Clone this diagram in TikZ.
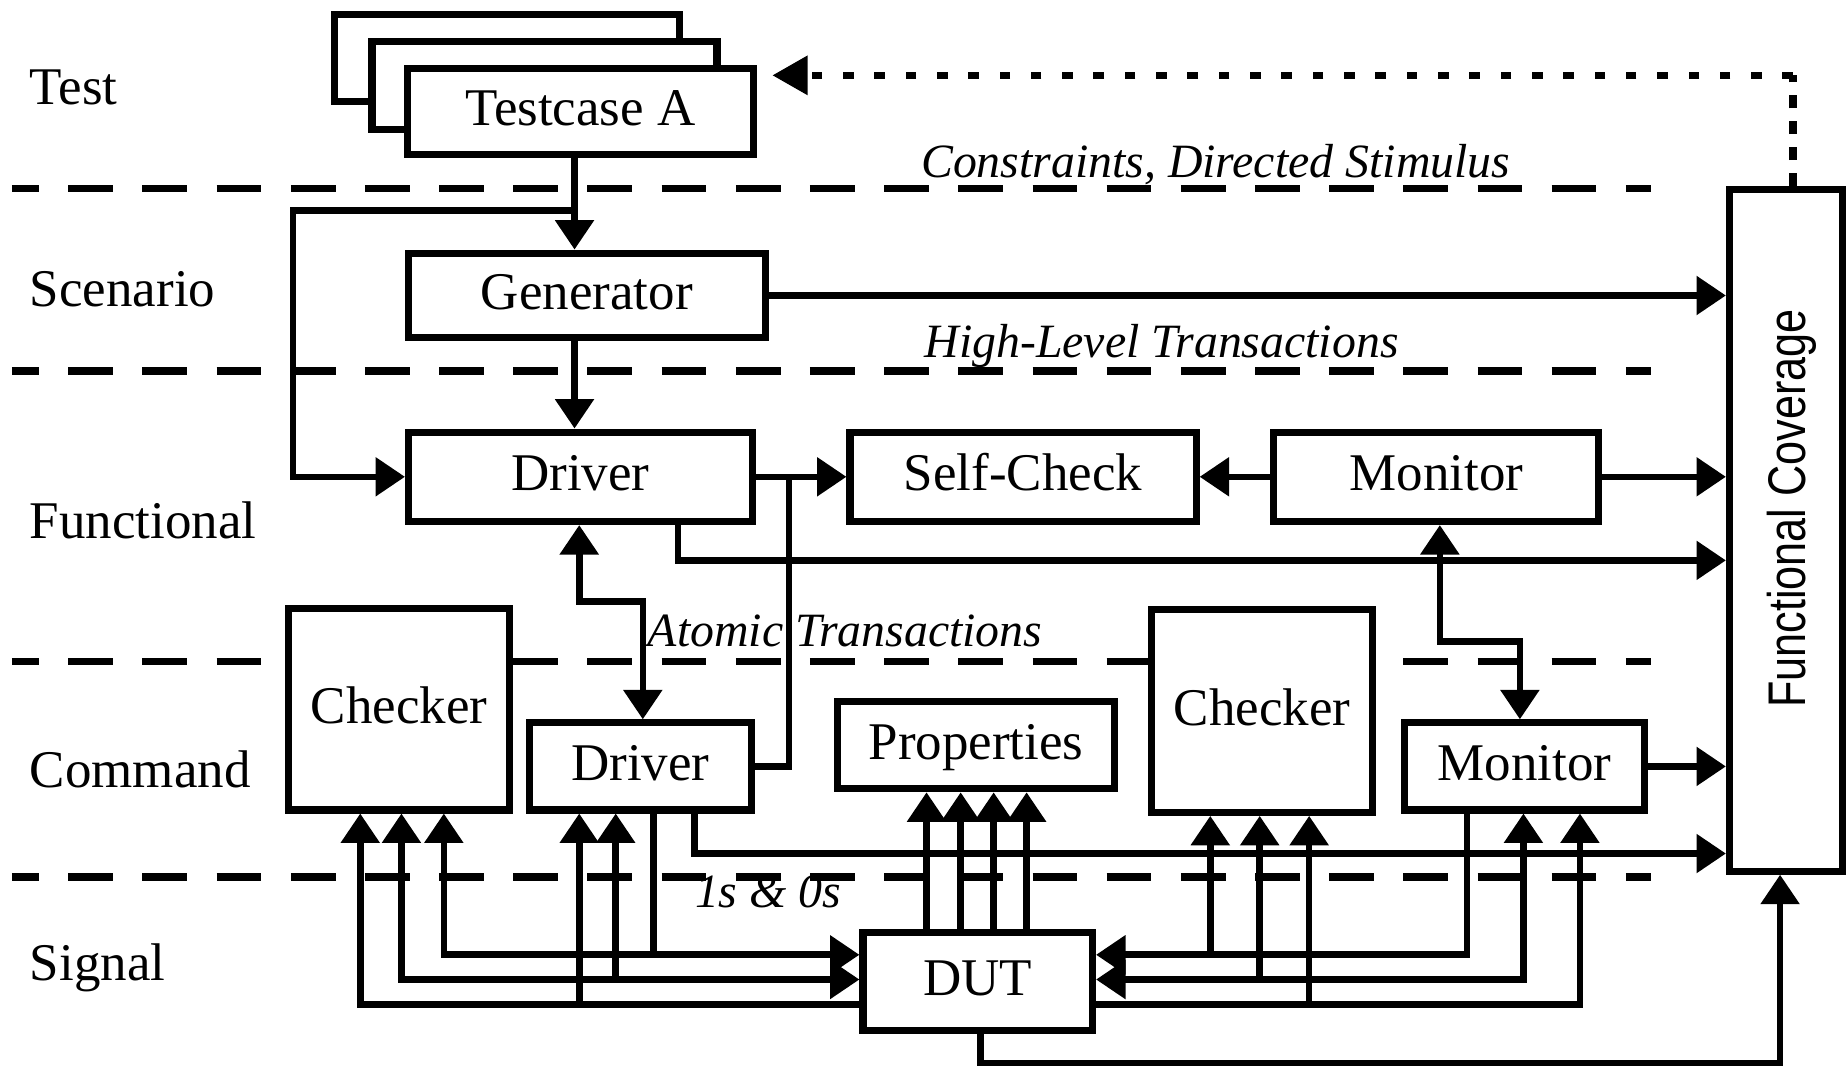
\documentclass[tikz,border=0pt]{standalone}
\usepackage{fontspec}
\setmainfont{Liberation Serif}
\newfontfamily\fcfont{Liberation Sans}
\usetikzlibrary{arrows.meta}
\newcommand\bxfont{\fontsize{22.5}{27}\selectfont}
\newcommand\lblitfont{\fontsize{20.3}{24}\selectfont\itshape}
\begin{document}
\begin{tikzpicture}[x=0.5pt,y=-0.5pt,
  box/.style={draw, line width=3pt, fill=white, inner sep=0pt, font=\bxfont, text height=1.2em, text depth=0em},
  lw/.style={line width=2.8pt},
  arr/.style={lw, -{Triangle[length=12.5pt,width=16pt]}},
  darr/.style={lw, {Triangle[length=12.5pt,width=16pt]}-{Triangle[length=12.5pt,width=16pt]}},
  layer/.style={line width=3.2pt, dash pattern=on 19pt off 12.5pt, dash phase=7.5pt},
  lname/.style={anchor=base west, font=\bxfont, inner sep=0pt},
  itlbl/.style={anchor=base west, font=\lblitfont, inner sep=0pt}]
\fill[white] (0,0) rectangle (1568,908);
\useasboundingbox (0,0) rectangle (1568,908);

% layer separators
\draw[layer] (10,160) -- (1402,160);
\draw[layer] (10,315) -- (1402,315);
\draw[layer] (10,562) -- (1402,562);
\draw[layer] (10,745) -- (1402,745);

% layer names
\node[lname] (lTest) at (25,89) {Test};
\node[lname] (lScen) at (25,260) {Scenario};
\node[lname] (lFunc) at (25,457) {Functional};
\node[lname] (lCmd) at (25,669) {Command};
\node[lname] (lSig) at (25,833) {Signal};

% level labels
\node[itlbl] (tConst) at (782,151) {Constraints, Directed Stimulus};
\node[itlbl] (tHigh) at (785,304) {High-Level Transactions};
\node[itlbl] (tAtom) at (550,549) {Atomic Transactions};
\node[itlbl] (tBits) at (590,771) {1s \& 0s};

% boxes
\node[box, minimum width=146.5pt, minimum height=37pt] (tc3) at (430.5,49) {};
\node[box, minimum width=146.5pt, minimum height=37.5pt] (tc2) at (462.5,72.5) {};
\node[box, minimum width=147pt, minimum height=36.5pt] (tc1) at (493,94.5) {Testcase A};
\node[box, minimum width=151.5pt, minimum height=36pt] (gen) at (498.5,251) {Generator};
\node[box, minimum width=146pt, minimum height=38pt] (fdrv) at (493,405) {Driver};
\node[box, minimum width=147pt, minimum height=38pt] (sc) at (869,405) {Self-Check};
\node[box, minimum width=138pt, minimum height=38pt] (fmon) at (1220,405) {Monitor};
\node[box, minimum width=94pt, minimum height=85.5pt] (lchk) at (339,602.5) {Checker};
\node[box, minimum width=94pt, minimum height=37pt] (cdrv) at (544,651) {Driver};
\node[box, minimum width=118pt, minimum height=37pt] (props) at (829,633) {Properties};
\node[box, minimum width=94pt, minimum height=86pt] (rchk) at (1072,604) {Checker};
\node[box, minimum width=102pt, minimum height=37pt] (cmon) at (1295,651) {Monitor};
\node[box, minimum width=97.5pt, minimum height=41.5pt] (dut) at (830.5,833.5) {DUT};
\node[box, minimum width=48pt, minimum height=289.5pt] (fc) at (1517,450.5) {};
\node[rotate=90, anchor=base, inner sep=0pt, font=\fcfont\fontsize{22.5}{27}\selectfont] (fct) at (1534,432) {\scalebox{0.815}[1]{Functional Coverage}};

% helper coordinates
\coordinate (cA) at (488,0);
\coordinate (fb) at (249,179);
\coordinate (cJ) at (670,0);
\coordinate (k1) at (576,476);
\coordinate (k2) at (492,511);
\coordinate (k3) at (546,511);
\coordinate (k4) at (1223,545);
\coordinate (k5) at (1291,545);
\coordinate (k6) at (590,725);
\coordinate (k7) at (833,903);
\coordinate (k8) at (1512,903);
\coordinate (t1) at (1523,64);
\coordinate (L1) at (377,811);
\coordinate (L2) at (341,832);
\coordinate (L3) at (306,853);
\coordinate (D1) at (492,853);
\coordinate (D2) at (523,832);
\coordinate (D3) at (555,811);
\coordinate (R1) at (1246,811);
\coordinate (R2) at (1294,832);
\coordinate (R3) at (1342,853);
\coordinate (Q1) at (1028,811);
\coordinate (Q2) at (1070,832);
\coordinate (Q3) at (1112,853);
\coordinate (P1) at (787,0);
\coordinate (P2) at (816,0);
\coordinate (P3) at (844,0);
\coordinate (P4) at (872,0);

% feedback from coverage (dotted)
\draw[line width=3.4pt, dash pattern=on 5.5pt off 5.5pt] (t1 |- fc.north) -- (t1);
\draw[line width=3.2pt, dash pattern=on 4.5pt off 8.8pt, -{Triangle[length=15pt,width=16pt]}, shorten >=6.5pt] (t1) -- (t1 -| tc1.east);

% upper connectors
\draw[arr] (cA |- tc1.south) -- (cA |- gen.north);
\draw[arr] (cA |- fb) -- (fb) |- (fdrv.west);
\draw[arr] (cA |- gen.south) -- (cA |- fdrv.north);
\draw[arr] (gen.east) -- (gen.east -| fc.west);
\draw[arr] (fdrv.east) -- (sc.west);
\draw[lw] (cdrv.east) -| (cJ |- fdrv.east);
\draw[arr] (fmon.west) -- (sc.east);
\draw[arr] (fmon.east) -- (fmon.east -| fc.west);
\draw[arr] (k1 |- fdrv.south) -- (k1) -- (k1 -| fc.west);
\draw[darr] (k2 |- fdrv.south) -- (k2) -- (k3) -- (k3 |- cdrv.north);
\draw[darr] (k4 |- fmon.south) -- (k4) -- (k5) -- (k5 |- cmon.north);
\draw[arr] (k6 |- cdrv.south) -- (k6) -- (k6 -| fc.west);
\draw[arr] (cmon.east) -- (cmon.east -| fc.west);
\draw[arr] (k7 |- dut.south) -- (k7) -- (k8) -- (k8 |- fc.south);

% properties
\draw[arr] (P1 |- dut.north) -- (P1 |- props.south);
\draw[arr] (P2 |- dut.north) -- (P2 |- props.south);
\draw[arr] (P3 |- dut.north) -- (P3 |- props.south);
\draw[arr] (P4 |- dut.north) -- (P4 |- props.south);

% left signal buses
\draw[darr] (L1 |- lchk.south) -- (L1) -- (L1 -| dut.west);
\draw[darr] (L2 |- lchk.south) -- (L2) -- (L2 -| dut.west);
\draw[arr] (L3 -| dut.west) -- (L3) -- (L3 |- lchk.south);
\draw[arr] (D1) -- (D1 |- cdrv.south);
\draw[arr] (D2) -- (D2 |- cdrv.south);
\draw[lw] (D3 |- cdrv.south) -- (D3);

% right signal buses
\draw[arr] (R1 |- cmon.south) -- (R1) -- (R1 -| dut.east);
\draw[darr] (R2 |- cmon.south) -- (R2) -- (R2 -| dut.east);
\draw[arr] (R3 -| dut.east) -- (R3) -- (R3 |- cmon.south);
\draw[arr] (Q1) -- (Q1 |- rchk.south);
\draw[arr] (Q2) -- (Q2 |- rchk.south);
\draw[arr] (Q3) -- (Q3 |- rchk.south);
\end{tikzpicture}
\end{document}
